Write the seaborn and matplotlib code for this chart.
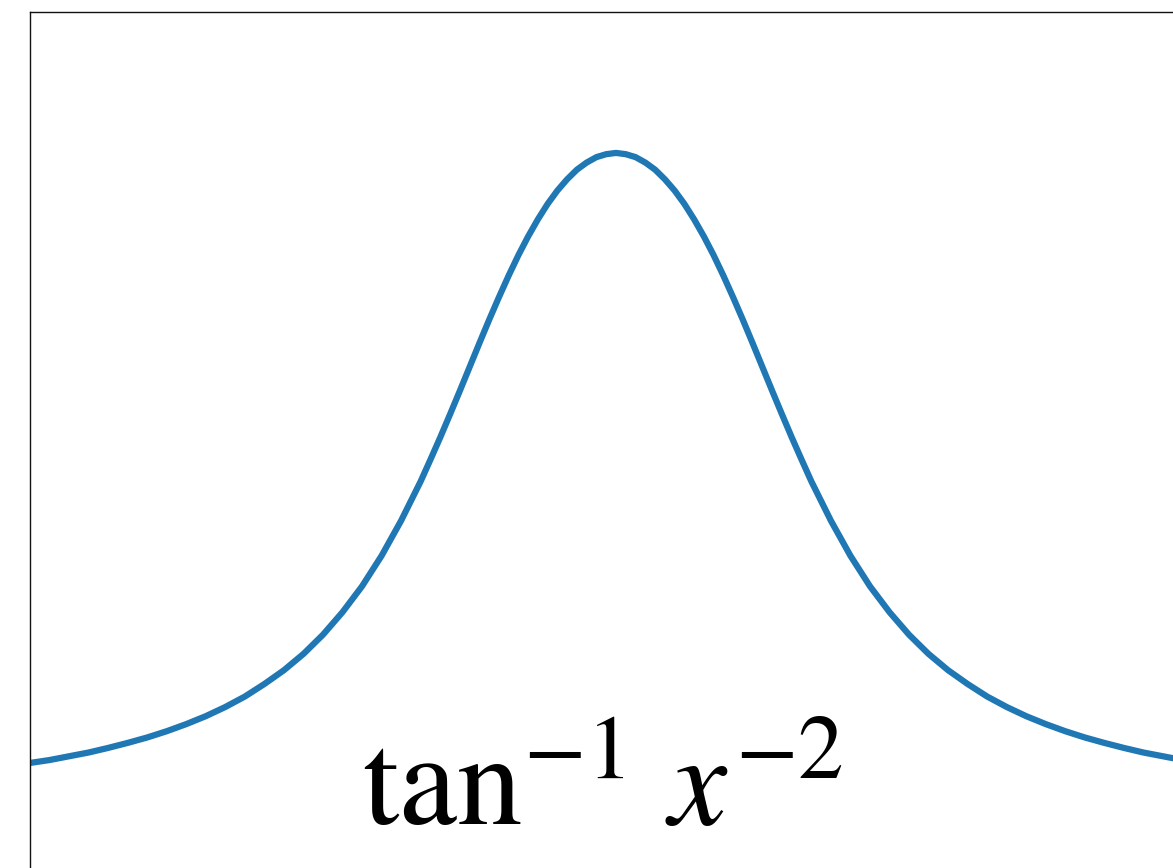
import matplotlib
matplotlib.use("Agg")
import matplotlib.pyplot as plt
import seaborn as sns
import pandas as pd

# Values (right half; left half mirrors it)
x_right = [0.0, 0.05, 0.1, 0.15, 0.2, 0.25, 0.3, 0.35, 0.4, 0.45, 0.5,
           0.55, 0.6, 0.65, 0.7, 0.75, 0.8, 0.85, 0.9, 0.95, 1.0,
           1.1, 1.2, 1.3, 1.4, 1.5, 1.6, 1.7, 1.8, 1.9, 2.0,
           2.1, 2.2, 2.3, 2.4, 2.5, 2.6, 2.7, 2.8, 2.9, 3.0]
y_right = [1.571, 1.568, 1.561, 1.548, 1.531, 1.508, 1.481, 1.449, 1.412, 1.371, 1.326,
           1.277, 1.225, 1.171, 1.115, 1.058, 1.001, 0.945, 0.890, 0.837, 0.785,
           0.691, 0.607, 0.534, 0.472, 0.418, 0.372, 0.333, 0.300, 0.270, 0.245,
           0.223, 0.204, 0.187, 0.172, 0.159, 0.147, 0.136, 0.127, 0.118, 0.111]

x_vals = [-v for v in x_right[:0:-1]] + x_right
y_vals = y_right[:0:-1] + y_right

label_text = r"$\tan^{-1}\,x^{-2}$"

df = pd.DataFrame({"x": x_vals, "y": y_vals})

sns.set_style("white")
plt.rcParams["mathtext.fontset"] = "stix"
plt.rcParams["font.family"] = ["STIXGeneral", "DejaVu Serif"]

W, H = 1173, 868
fig = plt.figure(figsize=(W / 100, H / 100), dpi=100)
ax = fig.add_axes([30 / W, -0.02869, 1172 / W, 1.01486])

sns.lineplot(data=df, x="x", y="y", ax=ax, color="#1f77b4", linewidth=4.5,
             sort=False, solid_joinstyle="round", solid_capstyle="butt")

ax.set_xlim(-3, 3)
ax.set_ylim(-0.2, 1.9083)
ax.set_xticks([])
ax.set_yticks([])
ax.set_xlabel("")
ax.set_ylabel("")
for s in ax.spines.values():
    s.set_color("#111111")
    s.set_linewidth(1.0)

ax.text(-0.067, -0.0376, label_text, ha="center", va="baseline", fontsize=94, color="black")

fig.savefig("out.png", dpi=100)
